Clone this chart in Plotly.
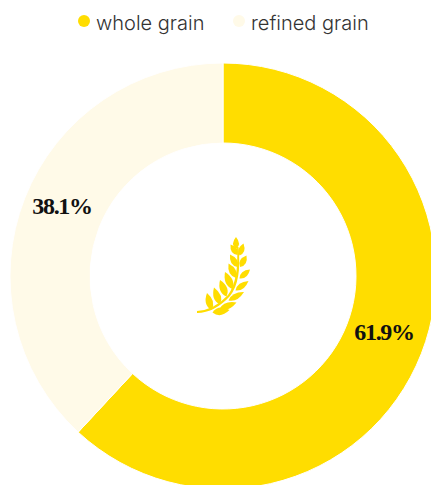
import math
import plotly.graph_objects as go

categories = ["whole grain", "refined grain"]
shares = [61.9, 38.1]
colors = ["#FFDD00", "#FFFAE8"]
legend_x = [84, 239]

# The canvas is slightly wider and taller than the window so the ring bleeds off the edges.
W, H = 440, 490
CX, CY, R_OUT, R_IN = 223, 276, 213, 133
LABEL_LIFT = 7

# Wheat sprig: leaves as (base, tip, half width) in canvas pixels.
LEAVES = [
    ((236.0, 249.0), (236.0, 237.0), 4.3),
    ((237.5, 255.0), (230.5, 244.5), 4.3),
    ((239.5, 255.5), (243.5, 243.5), 4.3),
    ((237.5, 267.0), (230.0, 254.5), 4.6),
    ((240.0, 267.0), (246.5, 255.5), 4.6),
    ((236.0, 278.0), (228.5, 263.5), 4.8),
    ((239.5, 278.5), (250.0, 269.5), 4.3),
    ((232.5, 289.0), (225.0, 272.0), 5.2),
    ((235.5, 290.5), (248.5, 281.0), 4.3),
    ((226.5, 296.5), (220.0, 280.0), 5.2),
    ((228.5, 300.5), (244.0, 292.0), 4.3),
    ((220.0, 304.5), (214.0, 287.5), 5.2),
    ((219.5, 309.0), (236.5, 302.5), 4.6),
    ((211.5, 310.0), (207.0, 293.0), 5.2),
    ((212.5, 312.5), (229.5, 310.0), 5.3),
]
STEM = "M197,313 Q215,312.5 230,296 Q242,281 238.5,247 L237,247 Q239,280 228,295 Q214,310 197,311 Z"


def leaf_path(base, tip, half):
    bx, by = base
    tx, ty = tip
    dx, dy = tx - bx, ty - by
    length = (dx * dx + dy * dy) ** 0.5
    nx, ny = -dy / length * half * 1.4, dx / length * half * 1.4
    mx, my = bx + dx * 0.4, by + dy * 0.4
    return (
        f"M{bx},{by} Q{mx + nx},{my + ny} {tx},{ty} "
        f"Q{mx - nx},{my - ny} {bx},{by} Z"
    )


fig = go.Figure()

fig.add_trace(go.Pie(
    labels=categories,
    values=shares,
    sort=False,
    direction="clockwise",
    rotation=0,
    hole=R_IN / R_OUT,
    marker=dict(colors=colors, line=dict(color="#FFFFFF", width=1)),
    textinfo="none",
    domain=dict(
        x=[(CX - R_OUT) / W, (CX + R_OUT) / W],
        y=[1 - (CY + R_OUT) / H, 1 - (CY - R_OUT) / H],
    ),
    showlegend=False,
    hoverinfo="label+percent",
))

# Legend row: round keys with their names to the right.
fig.add_trace(go.Scatter(
    x=legend_x, y=[21, 21],
    mode="markers",
    marker=dict(color=colors, size=12, symbol="circle"),
    showlegend=False, hoverinfo="skip",
))

annotations = [
    dict(x=x + 12, y=23, xref="x", yref="y", text=name, showarrow=False,
         xanchor="left", yanchor="middle", xshift=-2,
         font=dict(family="Inter", size=20, color="#333333", weight=300))
    for x, name in zip(legend_x, categories)
]

# Value labels sit at the middle of each slice's arc, raised slightly.
r_mid = (R_OUT + R_IN) / 2
total = sum(shares)
start = 0.0
for value in shares:
    mid = math.radians((start + value / 2) / total * 360)
    start += value
    annotations.append(dict(
        x=CX + r_mid * math.sin(mid), y=CY - r_mid * math.cos(mid) - LABEL_LIFT,
        xref="x", yref="y", text=f"<b>{value}%</b>", showarrow=False,
        xanchor="center", yanchor="middle",
        font=dict(family="Liberation Serif", size=24, color="#111111"),
    ))

shapes = [
    dict(type="path", path=leaf_path(*leaf), xref="x", yref="y",
         fillcolor="#FFDD00", line=dict(width=0), layer="above")
    for leaf in LEAVES
]
shapes.append(dict(type="path", path=STEM, xref="x", yref="y",
                   fillcolor="#FFDD00", line=dict(width=0), layer="above"))

fig.update_layout(
    width=W, height=H,
    margin=dict(l=0, r=0, t=0, b=0),
    paper_bgcolor="#FFFFFF",
    plot_bgcolor="rgba(0,0,0,0)",
    xaxis=dict(range=[0, W], visible=False, fixedrange=True),
    yaxis=dict(range=[H, 0], visible=False, fixedrange=True),
    shapes=shapes,
    annotations=annotations,
    showlegend=False,
)

fig.write_html(
    "out.html",
    config=dict(displayModeBar=False),
    post_script=(
        "document.documentElement.style.overflow='hidden';"
        "document.body.style.overflow='hidden';"
        "document.querySelectorAll('.annotation-text').forEach(function(t){"
        "if(t.textContent.indexOf('%')>=0){t.style.letterSpacing='-1.3px';}});"
    ),
)
